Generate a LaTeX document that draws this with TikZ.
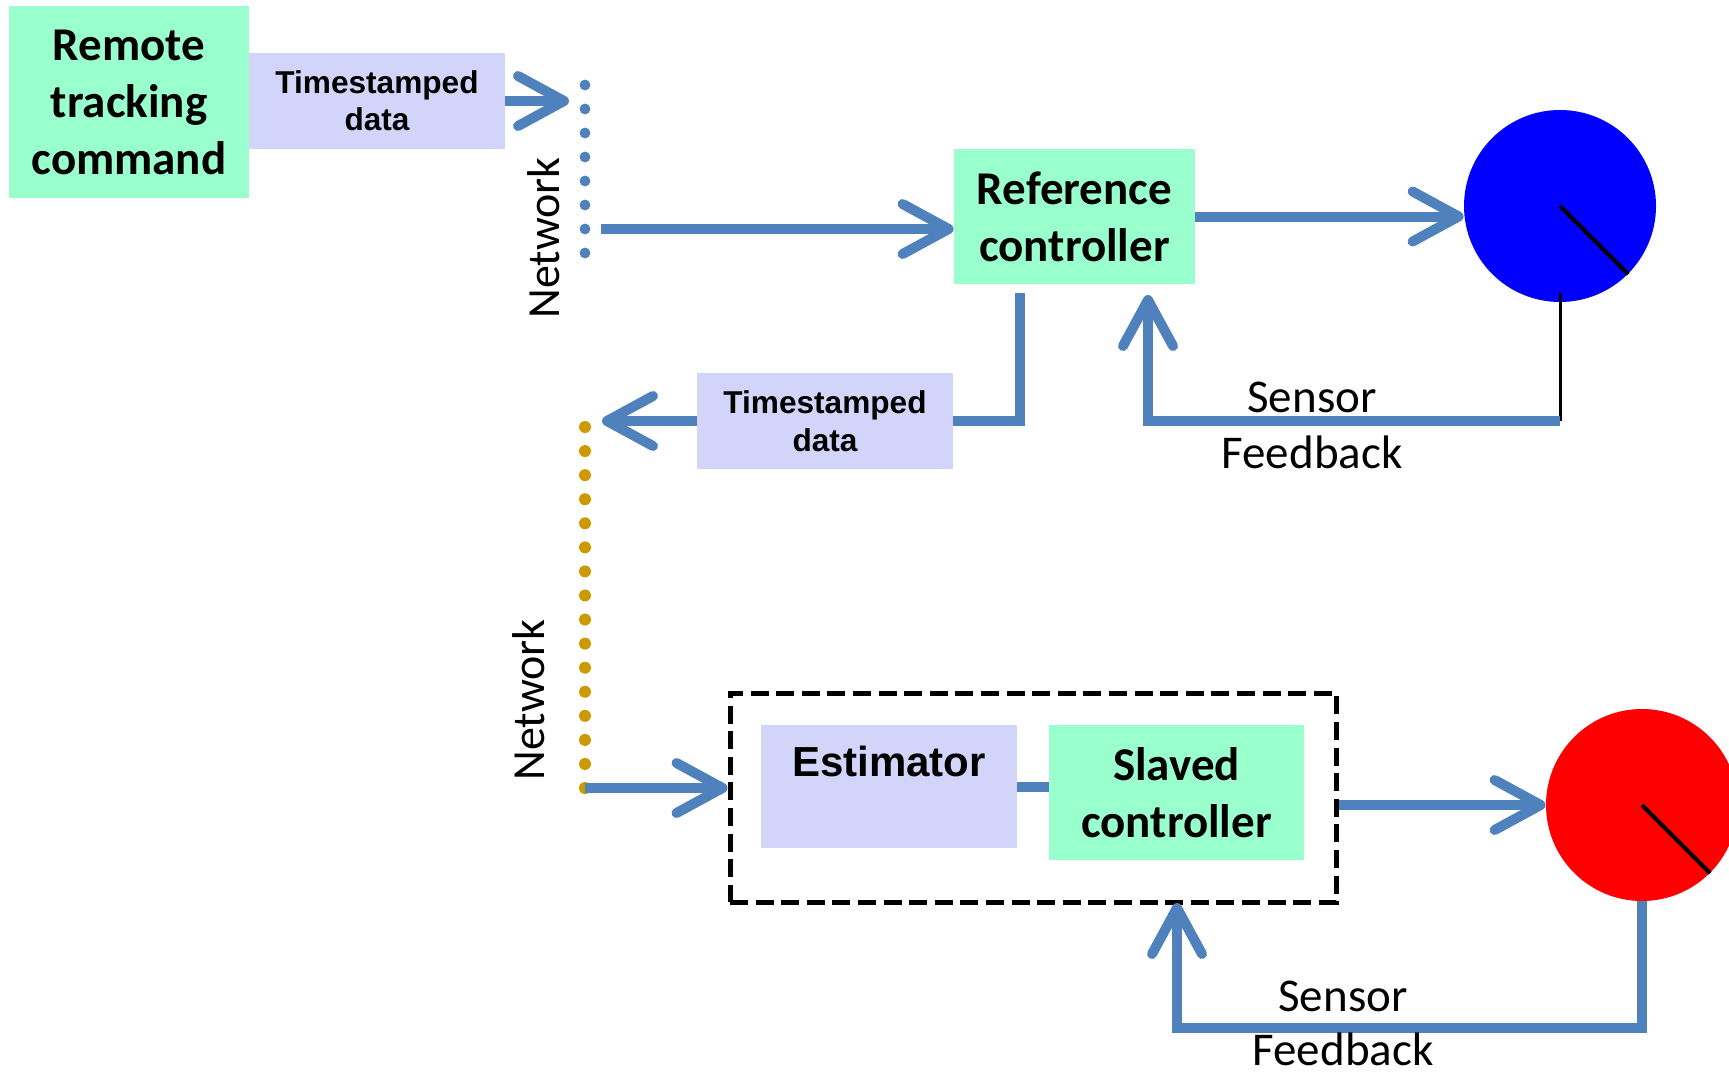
\documentclass[tikz,border=0pt]{standalone}
\usepackage{fontspec}
\setmainfont{Carlito}
\newfontfamily\arialf{Liberation Sans}
\usetikzlibrary{arrows.meta}
\definecolor{mint}{RGB}{153,255,204}
\definecolor{lav}{RGB}{211,212,250}
\definecolor{lblue}{RGB}{79,129,189}
\definecolor{gold}{RGB}{204,153,0}
\begin{document}
\begin{tikzpicture}[x=0.5pt,y=-0.5pt,
  box/.style={inner sep=0pt, align=center, text=black},
  greenbox/.style={box, fill=mint, font=\fontsize{23.5}{28.5}\selectfont\bfseries},
  tsbox/.style={box, fill=lav, font=\arialf\fontsize{15.8}{18.7}\selectfont\bfseries},
  conn/.style={draw=lblue, line width=5pt},
  arr/.style={conn, -{Straight Barb[length=23pt,width=25pt,line width=5pt,round]}},
  lbl/.style={font=\fontsize{23.5}{28}\selectfont, inner sep=0pt},
  netlbl/.style={font=\fontsize{23}{28}\selectfont, rotate=90, anchor=base, inner sep=0pt},
  needle/.style={draw=black, line width=2pt},
]
\clip (0,0) rectangle (1729,1076);

% boxes
\node[greenbox, minimum width=120pt, minimum height=96pt] (remote) at (129,102) {Remote\\tracking\\command};
\node[tsbox, minimum width=128pt, minimum height=48pt] (ts1) at (377,101) {Timestamped\\data};
\node[greenbox, minimum width=120.5pt, minimum height=67.5pt] (ref) at (1074.5,216.5) {Reference\\controller};
\node[tsbox, minimum width=128pt, minimum height=48pt] (ts2) at (825,421) {Timestamped\\data};
\node[draw=black, dash pattern=on 9pt off 3.8pt, line width=2.5pt, minimum width=303pt, minimum height=104.5pt, inner sep=0pt] (dash) at (1033,797.5) {};
\node[box, fill=lav, minimum width=128pt, minimum height=61.5pt] (est) at (889,786.5) {};
\node[font=\arialf\fontsize{21}{25}\selectfont\bfseries, anchor=base, inner sep=0pt] (estl) at (889,776) {Estimator};
\node[greenbox, minimum width=127.5pt, minimum height=67.5pt] (slv) at (1176.5,792.5) {Slaved\\controller};

% disks
\node[circle, fill=blue, minimum size=96pt, inner sep=0pt] (bc) at (1560,206) {};
\node[circle, fill=red, minimum size=96pt, inner sep=0pt] (rc) at (1642,805) {};
\draw[needle] (bc.center) -- (bc.-45);
\draw[needle] (rc.center) -- (rc.-45);

% network dots
\foreach \i in {0,...,7} \fill[lblue] (585,85+24*\i) circle (2.7pt);
\foreach \i in {0,...,15} \fill[gold] (585,427+24.07*\i) circle (3pt);

\node[netlbl] (net1) at (559,238) {Network};
\node[netlbl] (net2) at (544,700) {Network};

% coordinates
\coordinate (n1tip) at (569,101);
\coordinate (n1out) at (601,229);
\coordinate (n2tip) at (602,421);
\coordinate (n2out) at (585,788);
\coordinate (rdown) at (1020,293);
\coordinate (c1) at (1560,421);
\coordinate (fb1) at (1148,295);
\coordinate (c2) at (1642,1028);
\coordinate (fb2) at (1177,903);

% connectors
\draw[arr] (ts1.east) -- (n1tip);
\draw[arr] (n1out) -- (n1out -| ref.west);
\draw[arr] (ref.east) -- (ref.east -| bc.west);
\draw[conn] (rdown) -- (rdown |- ts2.east) -- (ts2.east);
\draw[arr] (ts2.west) -- (n2tip);
\draw[arr] (n2out) -- (n2out -| dash.west);
\draw[conn] (est.east) -- (slv.west |- est.east);
\draw[arr] (dash.east |- rc.west) -- (rc.west);
\draw[black, line width=1.5pt] ([yshift=4.5pt]bc.south) -- (c1);
\draw[arr] (c1) -- (c1 -| fb1) -- (fb1);
\draw[arr] (rc.south) -- (c2) -- (c2 -| fb2) -- (fb2);

% labels
\node[lbl, anchor=base] (s1) at (1312,412) {Sensor};
\node[lbl, anchor=base] (f1) at (1312,468) {Feedback};
\node[lbl, anchor=base] (s2) at (1343,1011) {Sensor};
\node[lbl, anchor=base] (f2) at (1343,1065) {Feedback};
\end{tikzpicture}
\end{document}
